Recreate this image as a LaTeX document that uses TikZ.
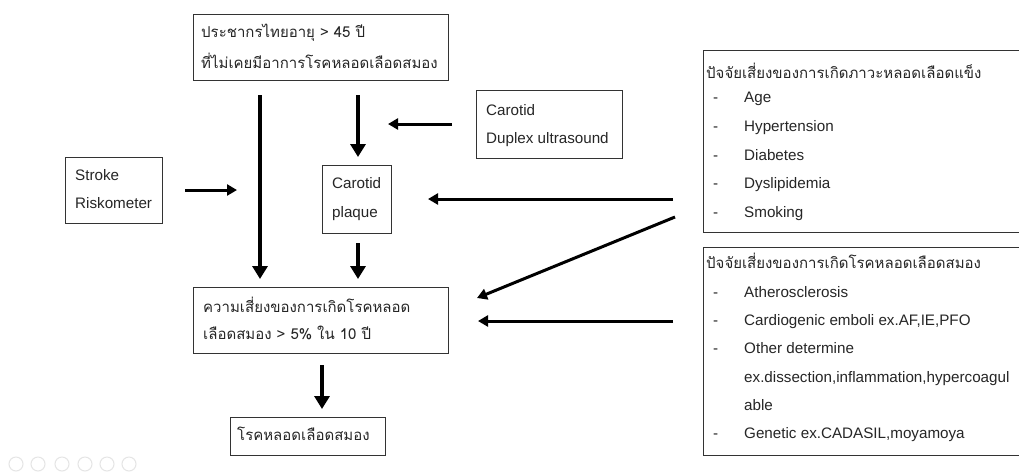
\documentclass[tikz,border=0pt]{standalone}
\usepackage{fontspec}
\setmainfont{Liberation Sans}
\newfontfamily\thaifont[Script=Thai]{Loma}
\usetikzlibrary{arrows.meta,calc}
\begin{document}
\begin{tikzpicture}[x=1pt,y=-1pt,
  box/.style={draw=black!80, line width=1.2pt, inner sep=0pt, anchor=north west},
  txt/.style={anchor=base west, inner sep=0pt, text=black!85, font=\fontsize{15.2}{18}\selectfont},
  th/.style={anchor=base west, inner sep=0pt, text=black!85, font=\thaifont\fontsize{15}{18}\selectfont},
  big/.style={line width=4.5pt, -{Triangle[width=15pt,length=13pt]}},
  mid/.style={line width=3pt, -{Triangle[width=11pt,length=10pt]}},
  icon/.style={draw=black!10, line width=1pt, circle, minimum size=14pt, inner sep=0pt},
]
\clip (0,0) rectangle (1019,472);
\fill[white] (0,0) rectangle (1019,472);

% boxes
\node[box, minimum width=255pt, minimum height=66pt] (pop) at (193,14) {};
\node[box, minimum width=146pt, minimum height=68pt] (dup) at (476,90) {};
\node[box, minimum width=97pt, minimum height=66pt] (strk) at (65,157) {};
\node[box, minimum width=69pt, minimum height=68pt] (plq) at (322,165) {};
\node[box, minimum width=255pt, minimum height=66pt] (risk) at (193,287) {};
\node[box, minimum width=155pt, minimum height=38pt] (fin) at (230,417) {};
\node[box, minimum width=340pt, minimum height=182pt] (rfa) at (703,50) {};
\node[box, minimum width=340pt, minimum height=208pt] (rfb) at (703,247) {};

% texts
\node[th] (t1) at (201,37) {ประชากรไทยอายุ > 45 ปี};
\node[th] (t2) at (201,68) {ที่ไม่เคยมีอาการโรคหลอดเลือดสมอง};
\node[txt] (t3) at (486,115) {Carotid};
\node[txt] (t4) at (486,143) {Duplex ultrasound};
\node[txt] (t5) at (75,180) {Stroke};
\node[txt] (t6) at (75,208) {Riskometer};
\node[txt] (t7) at (332,188) {Carotid};
\node[txt] (t8) at (332,217) {plaque};
\node[th] (t9) at (203,312) {ความเสี่ยงของการเกิดโรคหลอด};
\node[th] (t10) at (203,339) {เลือดสมอง > 5\% ใน 10 ปี};
\node[th] (t11) at (237,440) {โรคหลอดเลือดสมอง};

\node[th] (h1) at (706,78) {ปัจจัยเสี่ยงของการเกิดภาวะหลอดเลือดแข็ง};
\node[txt] (d1) at (713,102) {-}; \node[txt] (a1) at (744,102) {Age};
\node[txt] (d2) at (713,131) {-}; \node[txt] (a2) at (744,131) {Hypertension};
\node[txt] (d3) at (713,160) {-}; \node[txt] (a3) at (744,160) {Diabetes};
\node[txt] (d4) at (713,188) {-}; \node[txt] (a4) at (744,188) {Dyslipidemia};
\node[txt] (d5) at (713,217) {-}; \node[txt] (a5) at (744,217) {Smoking};

\node[th] (h2) at (706,268) {ปัจจัยเสี่ยงของการเกิดโรคหลอดเลือดสมอง};
\node[txt] (e1) at (713,297) {-}; \node[txt] (b1) at (744,297) {Atherosclerosis};
\node[txt] (e2) at (713,325) {-}; \node[txt] (b2) at (744,325) {Cardiogenic emboli ex.AF,IE,PFO};
\node[txt] (e3) at (713,353) {-}; \node[txt] (b3) at (744,353) {Other determine};
\node[txt] (b4) at (744,382) {ex.dissection,inflammation,hypercoagul};
\node[txt] (b5) at (744,410) {able};
\node[txt] (e6) at (713,438) {-}; \node[txt] (b6) at (744,438) {Genetic ex.CADASIL,moyamoya};

% connector ends
\coordinate (c1s) at (260,95);  \coordinate (c1e) at (260,279);
\coordinate (c2s) at (358,95);  \coordinate (c2e) at (358,157);
\coordinate (c3s) at (358,243); \coordinate (c3e) at (358,279);
\coordinate (c4s) at (322,365); \coordinate (c4e) at (322,409);
\coordinate (c5s) at (452,124); \coordinate (c5e) at (388,124);
\coordinate (c6s) at (185,190); \coordinate (c6e) at (237,190);
\coordinate (c7s) at (673,199); \coordinate (c7e) at (428,199);
\coordinate (c8s) at (675,217); \coordinate (c8e) at (477,298);
\coordinate (c9s) at (673,321); \coordinate (c9e) at (478,321);

\draw[big] (c1s) -- (c1e);
\draw[big] (c2s) -- (c2e);
\draw[big] (c3s) -- (c3e);
\draw[big] (c4s) -- (c4e);
\draw[mid] (c5s) -- (c5e);
\draw[mid] (c6s) -- (c6e);
\draw[mid] (c7s) -- (c7e);
\draw[mid] (c8s) -- (c8e);
\draw[mid] (c9s) -- (c9e);

% faint slide-control icons
\foreach \i/\x in {1/16,2/38,3/62,4/85,5/107,6/129} {\node[icon] (ic\i) at (\x,464) {};}
\end{tikzpicture}
\end{document}
